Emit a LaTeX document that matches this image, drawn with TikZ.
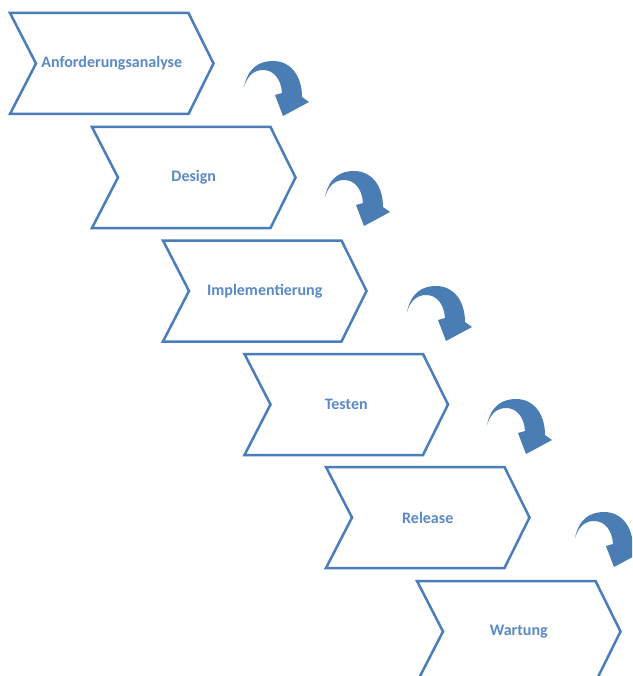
\documentclass[tikz,border=0pt]{standalone}
\usepackage{fontspec}
\setmainfont{Carlito}
\definecolor{lineblue}{HTML}{4A7EBB}
\definecolor{textblue}{HTML}{5A8AC6}
\definecolor{arrowblue}{HTML}{4A7DB4}
\tikzset{
  chev/.style={draw=lineblue, line width=2.5pt, fill=white, line join=miter},
  lbl/.style={font=\bfseries\fontsize{16}{19}\selectfont, text=textblue, inner sep=0pt},
  bendfill/.style={fill=arrowblue},
  curvarrow/.pic={
    \fill[bendfill] (4,28) .. controls (8,8) and (20,2) .. (33,2)
      .. controls (50,2) and (62,16) .. (62,38) -- (69,43) -- (43,57) -- (35,36) -- (42,34)
      .. controls (41,19) and (33,11) .. (23,11)
      .. controls (13,11) and (7,18) .. (4,28) -- cycle;
  }
}
\newcommand\mychevron[4]{%
  \draw[chev] (#2,#3) -- ++(178.5,0) -- ++(25,50.5) -- ++(-25,50.5) -- ++(-178.5,0) -- ++(26,-50.5) -- cycle;
  \node[lbl] (#1) at ({#2+101.75},{#3+50.5}) {#4};
}
\begin{document}
\begin{tikzpicture}[x=1pt,y=-1pt]
  \clip (0,0) rectangle (632,676);
  \fill[white] (0,0) rectangle (632,676);
  \mychevron{c1}{10}{13}{Anforderungsanalyse}
  \mychevron{c2}{92}{127}{Design}
  \mychevron{c3}{163}{240.5}{Implementierung}
  \mychevron{c4}{244.5}{354}{Testen}
  \mychevron{c5}{326}{467}{Release}
  \mychevron{c6}{417}{581}{Wartung}
  \pic (a1) at (240,59) {curvarrow};
  \pic (a2) at (321,169) {curvarrow};
  \pic (a3) at (403,284) {curvarrow};
  \pic (a4) at (483,397) {curvarrow};
  \pic (a5) at (571,510) {curvarrow};
\end{tikzpicture}
\end{document}
